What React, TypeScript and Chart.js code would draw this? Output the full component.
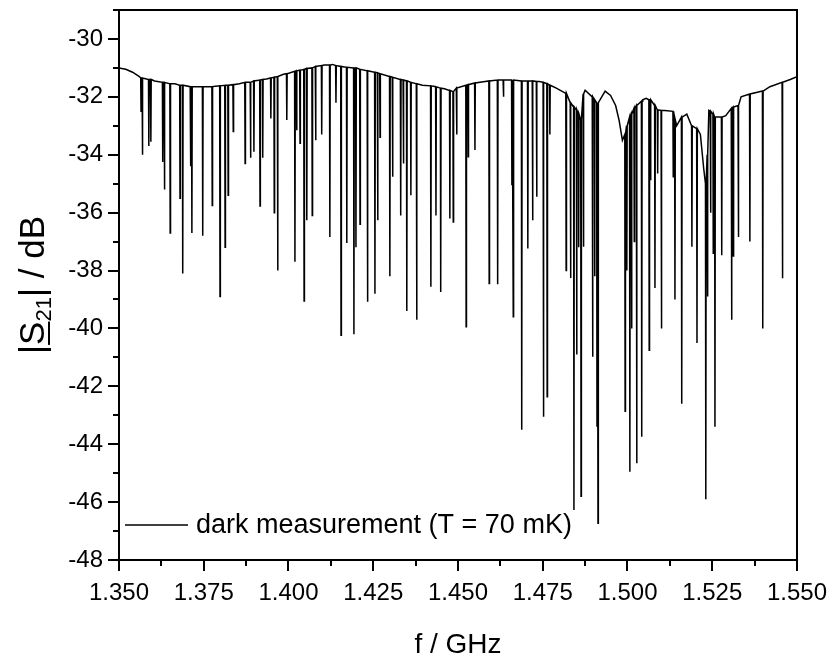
import React, { useEffect, useRef } from "react";
import { Chart, registerables } from "chart.js";

Chart.register(...registerables);

// x axis tick labels (GHz) and y axis ticks (dB)
const xTicks = [1.35, 1.375, 1.4, 1.425, 1.45, 1.475, 1.5, 1.525, 1.55];
const yTicks = [-48, -46, -44, -42, -40, -38, -36, -34, -32, -30];

// upper envelope points where there is no resonance dip: [f (GHz), |S21| (dB)]
const baseline: [number, number][] = [
  [1.35, -31.0], [1.352, -31.05], [1.354, -31.15], [1.356, -31.3],
  [1.3605, -31.45], [1.3665, -31.55], [1.3735, -31.65], [1.3785, -31.63],
  [1.3855, -31.55], [1.3935, -31.38], [1.3985, -31.22], [1.4105, -30.9],
  [1.4130, -30.88], [1.4395, -31.6], [1.4460, -31.72], [1.4575, -31.48],
  [1.4645, -31.42], [1.4740, -31.47], [1.4790, -31.7], [1.4875, -31.77],
  [1.4934, -31.8], [1.4950, -31.95], [1.4965, -32.3], [1.4975, -32.8],
  [1.4985, -33.5], [1.5045, -32.1], [1.5055, -32.05], [1.5110, -32.47],
  [1.5145, -33.0], [1.5175, -32.6], [1.5215, -33.3], [1.5225, -34.5],
  [1.5240, -32.47], [1.5290, -32.65], [1.5335, -32.0], [1.5380, -31.85],
  [1.5420, -31.65], [1.5480, -31.4], [1.55, -31.3],
];

// resonance dips: [f (GHz), level at the dip's shoulder (dB), minimum (dB)]
const dips: [number, number, number][] = [
  [1.3565, -31.35, -32.5], [1.3569, -31.35, -34.0], [1.3588, -31.4, -33.7],
  [1.3594, -31.4, -33.55], [1.3629, -31.5, -34.25], [1.3634, -31.5, -35.2],
  [1.3651, -31.55, -36.7], [1.3680, -31.6, -35.5], [1.3688, -31.6, -38.1],
  [1.3711, -31.65, -34.4], [1.3715, -31.65, -36.7], [1.3747, -31.65, -36.8],
  [1.3775, -31.65, -35.75], [1.3798, -31.62, -38.9], [1.3813, -31.6, -37.2],
  [1.3822, -31.6, -35.4], [1.3837, -31.58, -33.2], [1.3872, -31.5, -34.3],
  [1.3888, -31.5, -34.1], [1.3898, -31.45, -33.9], [1.3916, -31.42, -35.77],
  [1.3924, -31.4, -34.1], [1.3948, -31.35, -32.75], [1.3958, -31.32, -36.0],
  [1.3968, -31.3, -38.0], [1.3995, -31.2, -32.8], [1.4019, -31.12, -37.7],
  [1.4024, -31.1, -33.15], [1.4034, -31.08, -33.6], [1.4046, -31.05, -39.05],
  [1.4054, -31.02, -36.26], [1.4070, -31.0, -36.1], [1.4080, -30.95, -33.5],
  [1.4098, -30.92, -33.3], [1.4122, -30.9, -36.84], [1.4140, -30.92, -32.2],
  [1.4155, -30.95, -40.24], [1.4172, -30.98, -37.05], [1.4193, -31.0, -40.2],
  [1.4199, -31.0, -37.2], [1.4211, -31.05, -36.4], [1.4233, -31.1, -39.08],
  [1.4255, -31.15, -38.8], [1.4263, -31.17, -36.26], [1.4270, -31.2, -33.4],
  [1.4299, -31.3, -38.2], [1.4307, -31.32, -34.76], [1.4331, -31.4, -36.1],
  [1.4339, -31.42, -34.3], [1.4349, -31.45, -39.4], [1.4361, -31.5, -35.4],
  [1.4378, -31.55, -39.7], [1.4420, -31.62, -38.56], [1.4435, -31.65, -36.1],
  [1.4449, -31.7, -38.74], [1.4476, -31.78, -36.2], [1.4486, -31.82, -36.32],
  [1.4496, -31.7, -33.3], [1.4524, -31.6, -39.94], [1.4530, -31.58, -34.07],
  [1.4550, -31.52, -33.84], [1.4592, -31.45, -38.45], [1.4617, -31.42, -38.47],
  [1.4634, -31.42, -32.0], [1.4659, -31.42, -35.05], [1.4663, -31.42, -39.6],
  [1.4688, -31.45, -43.5], [1.4706, -31.45, -37.24], [1.4720, -31.45, -36.26],
  [1.4732, -31.47, -35.45], [1.4752, -31.5, -43.05], [1.4763, -31.55, -42.36],
  [1.4771, -31.6, -33.3], [1.4819, -31.88, -38.0], [1.4832, -32.2, -38.26],
  [1.4842, -32.35, -46.27], [1.4850, -32.45, -40.9], [1.4856, -32.6, -37.2],
  [1.4863, -32.8, -45.8], [1.4870, -31.9, -37.18], [1.4897, -32.0, -40.98],
  [1.4903, -32.1, -38.2], [1.4910, -32.2, -43.4], [1.4913, -32.2, -46.73],
  [1.4993, -33.3, -42.86], [1.4998, -33.0, -38.0], [1.5007, -32.7, -44.95],
  [1.5012, -32.6, -40.0], [1.5020, -32.4, -37.0], [1.5027, -32.3, -44.66],
  [1.5042, -32.15, -43.74], [1.5064, -32.1, -40.75], [1.5068, -32.1, -34.88],
  [1.5081, -32.3, -38.6], [1.5089, -32.45, -34.65], [1.5100, -32.47, -40.0],
  [1.5135, -32.5, -34.76], [1.5140, -32.8, -39.0], [1.5160, -32.7, -42.6],
  [1.5190, -33.0, -37.18], [1.5205, -33.1, -40.5], [1.5231, -35.0, -45.9],
  [1.5236, -34.0, -38.9], [1.5245, -32.5, -36.0], [1.5253, -32.6, -37.4],
  [1.5258, -32.7, -43.4], [1.5278, -32.7, -37.47], [1.5307, -32.4, -39.7],
  [1.5312, -32.35, -37.5], [1.5327, -32.3, -36.84], [1.5361, -31.9, -37.0],
  [1.5399, -31.8, -40.0], [1.5457, -31.5, -38.27],
];

const legendLabel = "dark measurement (T = 70 mK)";
const xTitle = "f / GHz";

const DIP_HALF_WIDTH = 0.0001;

function buildTrace() {
  const pts: { x: number; y: number }[] = baseline.map(([f, v]) => ({ x: f, y: v }));
  dips.forEach(([f, top, bottom]) => {
    pts.push({ x: f - DIP_HALF_WIDTH, y: top }, { x: f, y: bottom }, { x: f + DIP_HALF_WIDTH, y: top });
  });
  pts.sort((a, b) => a.x - b.x);
  return pts;
}

const FONT = "'Liberation Sans', Arial, sans-serif";

const framePlugin = {
  id: "frame",
  afterDraw(chart: any) {
    const { ctx, chartArea: a, scales } = chart;
    const xs = scales.x;
    const ys = scales.y;
    ctx.save();
    ctx.strokeStyle = "#000";
    ctx.lineWidth = 2;
    ctx.strokeRect(a.left, a.top, a.right - a.left, a.bottom - a.top);
    ctx.beginPath();
    xTicks.forEach((v, i) => {
      const px = Math.round(xs.getPixelForValue(v));
      ctx.moveTo(px, a.bottom);
      ctx.lineTo(px, a.bottom + 11);
      if (i < xTicks.length - 1) {
        const mx = Math.round(xs.getPixelForValue((v + xTicks[i + 1]) / 2));
        ctx.moveTo(mx, a.bottom);
        ctx.lineTo(mx, a.bottom + 6);
      }
    });
    yTicks.forEach((v) => {
      const py = Math.round(ys.getPixelForValue(v));
      ctx.moveTo(a.left, py);
      ctx.lineTo(a.left - 11, py);
      const my = Math.round(ys.getPixelForValue(v + 1));
      ctx.moveTo(a.left, my);
      ctx.lineTo(a.left - 6, my);
    });
    ctx.stroke();

    // legend
    ctx.lineWidth = 1.5;
    ctx.beginPath();
    ctx.moveTo(a.left + 6, 525);
    ctx.lineTo(a.left + 69, 525);
    ctx.stroke();
    ctx.fillStyle = "#000";
    ctx.font = `27px ${FONT}`;
    ctx.textBaseline = "middle";
    ctx.textAlign = "left";
    ctx.fillText(legendLabel, a.left + 77, 526);

    // x title
    ctx.font = `28px ${FONT}`;
    ctx.textAlign = "center";
    ctx.textBaseline = "alphabetic";
    ctx.fillText(xTitle, (a.left + a.right) / 2, 653);

    // y title: |S21| / dB with underlined S and subscript 21
    ctx.translate(44, (a.top + a.bottom) / 2);
    ctx.rotate(-Math.PI / 2);
    const big = `35px ${FONT}`;
    const small = `22px ${FONT}`;
    const parts: [string, string, number, boolean][] = [
      ["|", big, 0, false],
      ["S", big, 0, true],
      ["21", small, 7, false],
      ["| / dB", big, 0, false],
    ];
    let total = 0;
    parts.forEach(([t, f]) => {
      ctx.font = f;
      total += ctx.measureText(t).width;
    });
    let x = -total / 2;
    ctx.textAlign = "left";
    parts.forEach(([t, f, dy, ul]) => {
      ctx.font = f;
      const w = ctx.measureText(t).width;
      ctx.fillText(t, x, dy);
      if (ul) {
        ctx.fillRect(x, 4, w, 2);
      }
      x += w;
    });
    ctx.restore();
  },
};

function noPadding(s: any) {
  s.paddingTop = 0;
  s.paddingBottom = 0;
  s.paddingLeft = 0;
  s.paddingRight = 0;
}

export default function App() {
  const ref = useRef<HTMLCanvasElement>(null);
  useEffect(() => {
    if (!ref.current) return;
    const chart = new Chart(ref.current, {
      type: "line",
      data: {
        datasets: [
          {
            label: legendLabel,
            data: buildTrace(),
            borderColor: "#000",
            borderWidth: 1.5,
            pointRadius: 0,
            tension: 0,
            fill: false,
          },
        ],
      },
      options: {
        animation: false,
        responsive: false,
        maintainAspectRatio: false,
        layout: { padding: { top: 10, right: 37, left: 0, bottom: 0 } },
        plugins: { legend: { display: false }, tooltip: { enabled: false } },
        scales: {
          x: {
            type: "linear",
            min: 1.35,
            max: 1.55,
            afterBuildTicks: (s: any) => {
              s.ticks = xTicks.map((v) => ({ value: v }));
            },
            afterFit: (s: any) => {
              s.height = 99;
              noPadding(s);
            },
            grid: { display: false, drawTicks: false },
            border: { display: false },
            ticks: {
              padding: 19,
              color: "#000",
              font: { family: FONT, size: 24 },
              maxRotation: 0,
              autoSkip: false,
              callback: (v: any) => Number(v).toFixed(3),
            },
          },
          y: {
            min: -48,
            max: -29,
            afterBuildTicks: (s: any) => {
              s.ticks = yTicks.map((v) => ({ value: v }));
            },
            afterFit: (s: any) => {
              s.width = 119;
              noPadding(s);
            },
            grid: { display: false, drawTicks: false },
            border: { display: false },
            ticks: {
              padding: 16,
              color: "#000",
              font: { family: FONT, size: 24 },
              autoSkip: false,
              callback: (v: any) => String(v),
            },
          },
        },
      },
      plugins: [framePlugin],
    });
    return () => chart.destroy();
  }, []);
  return (
    <div style={{ position: "absolute", left: 0, top: 0, width: 834, height: 659 }}>
      <canvas ref={ref} width={834} height={659} style={{ display: "block" }} />
    </div>
  );
}
